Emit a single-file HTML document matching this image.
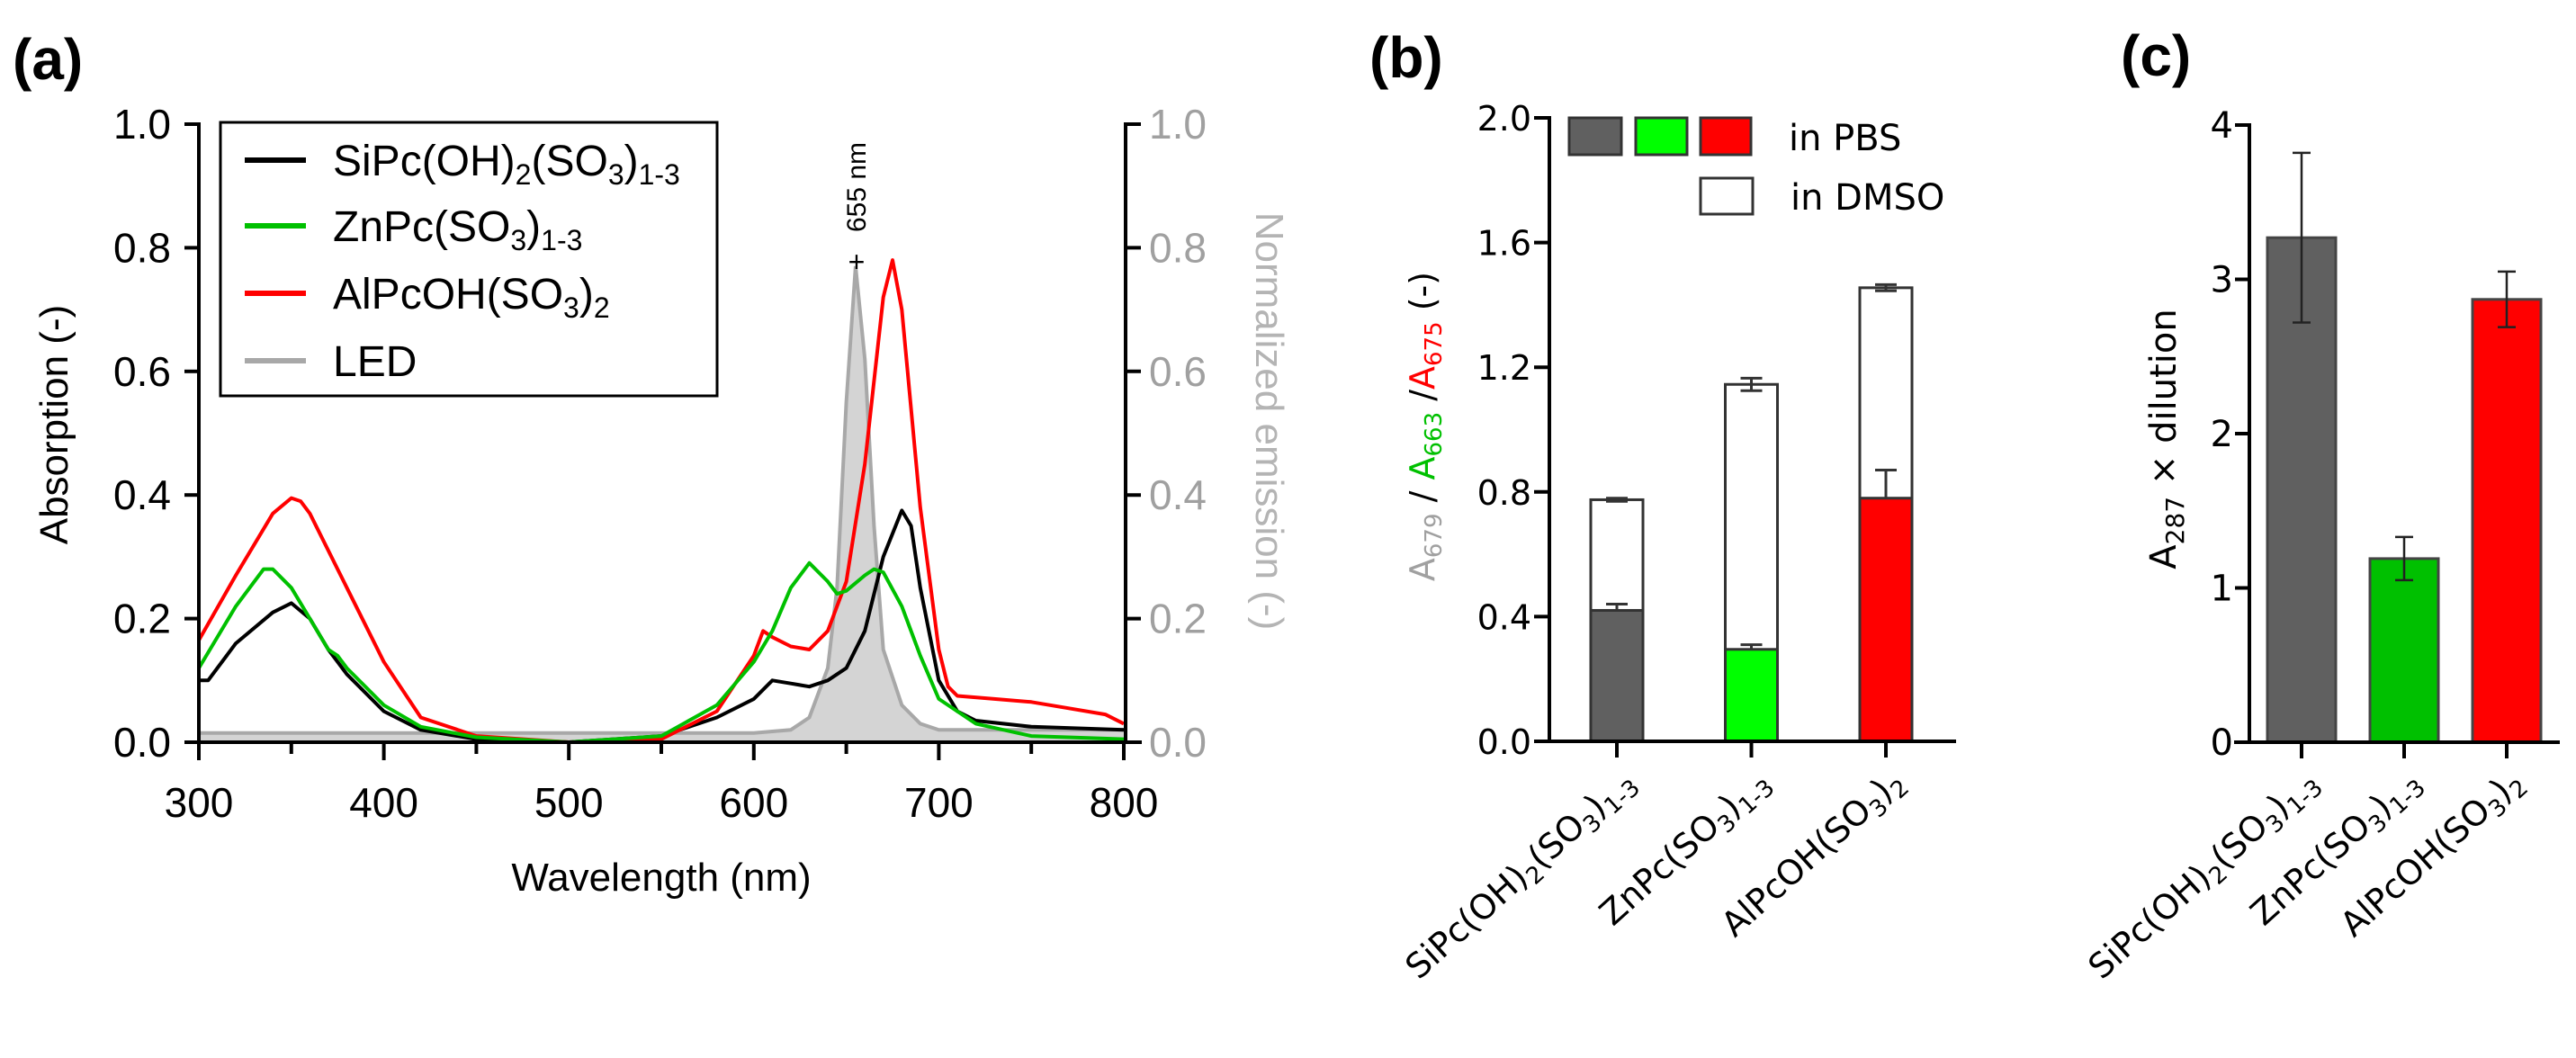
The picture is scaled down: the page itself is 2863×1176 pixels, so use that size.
<!DOCTYPE html>
<html><head><meta charset="utf-8"><style>
html,body{margin:0;padding:0;background:#fff;}
svg{display:block;}
text{font-family:"Liberation Sans",sans-serif;}
.n{font-family:"Liberation Sans Narrow","Liberation Sans",sans-serif;}
.v{font-family:"DejaVu Sans","Liberation Sans",sans-serif;}
</style></head><body>
<svg id="fig" width="2863" height="1176" viewBox="0 0 2863 1176" xmlns="http://www.w3.org/2000/svg">
<g id="pa"></g>
<g id="pb"></g>
<g id="pc"></g>
</svg>
<script>
// ---------- Panel (a) data ----------
const wlBlack = [300,305,320,340,350,360,370,375,380,400,420,450,500,550,580,600,610,620,630,640,650,660,670,680,685,690,700,710,720,750,800];
const absBlack = [0.10,0.10,0.16,0.21,0.225,0.20,0.15,0.13,0.11,0.05,0.02,0.005,0.0,0.01,0.04,0.07,0.10,0.095,0.09,0.10,0.12,0.18,0.30,0.375,0.35,0.25,0.10,0.05,0.035,0.025,0.02];
const wlGreen = [300,320,335,340,350,360,370,375,380,400,420,450,500,550,580,600,610,620,630,640,645,650,660,665,670,680,690,700,720,750,800];
const absGreen = [0.12,0.22,0.28,0.28,0.25,0.20,0.15,0.14,0.12,0.06,0.025,0.008,0.0,0.01,0.06,0.13,0.18,0.25,0.29,0.26,0.24,0.245,0.27,0.28,0.275,0.22,0.14,0.07,0.03,0.01,0.005];
const wlRed = [300,320,340,350,355,360,380,400,420,450,500,550,580,600,605,610,620,630,640,650,660,670,675,680,690,700,705,710,730,750,770,790,800];
const absRed = [0.165,0.27,0.37,0.395,0.39,0.37,0.25,0.13,0.04,0.01,0.0,0.005,0.05,0.14,0.18,0.17,0.155,0.15,0.18,0.26,0.45,0.72,0.78,0.70,0.38,0.15,0.09,0.075,0.07,0.065,0.055,0.045,0.03];
const wlLed = [300,350,400,450,500,550,600,620,630,640,645,650,655,660,665,670,680,690,700,750,800];
const emLed = [0.015,0.015,0.015,0.015,0.015,0.015,0.015,0.02,0.04,0.12,0.25,0.55,0.77,0.62,0.35,0.15,0.06,0.03,0.02,0.02,0.02];
const aXTicks = [300,400,500,600,700,800];
const aYTicks = [0,0.2,0.4,0.6,0.8,1.0];
const aYLabels = ["0.0","0.2","0.4","0.6","0.8","1.0"];

// ---------- Panel (b) data ----------
const bCats = ["SiPc(OH)2(SO3)1-3","ZnPc(SO3)1-3","AlPcOH(SO3)2"];
const bPbs = [0.42,0.295,0.78];
const bPbsErr = [0.02,0.015,0.09];
const bDmso = [0.775,1.145,1.455];
const bDmsoErr = [0.005,0.02,0.01];
const bYTicks = [0,0.4,0.8,1.2,1.6,2.0];
const bYLabels = ["0.0","0.4","0.8","1.2","1.6","2.0"];

// ---------- Panel (c) data ----------
const cVals = [3.27,1.19,2.87];
const cErr = [0.55,0.14,0.18];
const cYTicks = [0,1,2,3,4];

const NS="http://www.w3.org/2000/svg";
function mk(parent,tag,attrs){const e=document.createElementNS(NS,tag);for(const k in attrs)e.setAttribute(k,attrs[k]);parent.appendChild(e);return e;}

// axis functions
const ax = w => 221 + (w-300)*2.056;
const ay = v => 825 - v*687;
const by = v => 824 - v*346.5;
const bx = i => 1797 + i*149.5;
const cy = v => 825 - v*171.5;
const cx = i => 2558 + i*114;

// ===== Panel A =====
const pa=document.getElementById('pa');
let t=mk(pa,'text',{x:14,y:88,'font-size':64,'font-weight':'bold'});t.textContent='(a)';



// LED fill
function pathFor(xs,ys,fx,fy){return xs.map((x,i)=>(i?'L':'M')+fx(x).toFixed(1)+','+fy(ys[i]).toFixed(1)).join(' ');}
let ledFill=mk(pa,'path',{d:pathFor(wlLed,emLed,ax,ay)+` L${ax(800)},${ay(0)} L${ax(300)},${ay(0)} Z`,fill:'#d4d4d4',stroke:'none'});


let ledLine=mk(pa,'path',{d:pathFor(wlLed,emLed,ax,ay),fill:'none',stroke:'#a8a8a8','stroke-width':4});


let s1=mk(pa,'path',{d:pathFor(wlBlack,absBlack,ax,ay),fill:'none',stroke:'#000','stroke-width':4,'stroke-linejoin':'round'});


let s3=mk(pa,'path',{d:pathFor(wlRed,absRed,ax,ay),fill:'none',stroke:'#ff0000','stroke-width':4,'stroke-linejoin':'round'});


let s2=mk(pa,'path',{d:pathFor(wlGreen,absGreen,ax,ay),fill:'none',stroke:'#00c000','stroke-width':4,'stroke-linejoin':'round'});



// axes a
let la=mk(pa,'line',{x1:221,y1:ay(1)-2,x2:221,y2:ay(0),stroke:'#000','stroke-width':4});


let ra=mk(pa,'line',{x1:1251,y1:ay(1)-2,x2:1251,y2:ay(0),stroke:'#000','stroke-width':4});


let xa=mk(pa,'line',{x1:221,y1:825,x2:1269,y2:825,stroke:'#000','stroke-width':4});


aYTicks.forEach((v,i)=>{
  mk(pa,'line',{x1:205,y1:ay(v),x2:221,y2:ay(v),stroke:'#000','stroke-width':4});
  mk(pa,'line',{x1:1251,y1:ay(v),x2:1268,y2:ay(v),stroke:'#000','stroke-width':4});
  let l=mk(pa,'text',{x:190,y:ay(v)+16,'font-size':46,'text-anchor':'end',class:'n'});l.textContent=aYLabels[i];
  
  
  let r=mk(pa,'text',{x:1277,y:ay(v)+16,'font-size':46,fill:'#a0a0a0',class:'n'});r.textContent=aYLabels[i];
  
  
});
for(let w=300;w<=800;w+=50){
  mk(pa,'line',{x1:ax(w),y1:825,x2:ax(w),y2:w%100===0?845:838,stroke:'#000','stroke-width':4});
}
aXTicks.forEach(w=>{
  let l=mk(pa,'text',{x:ax(w),y:908,'font-size':46,'text-anchor':'middle',class:'n'});l.textContent=w;
  
  
});
t=mk(pa,'text',{x:735,y:990,'font-size':44,'text-anchor':'middle'});t.textContent='Wavelength (nm)';


t=mk(pa,'text',{x:0,y:0,'font-size':44,'text-anchor':'middle',transform:'translate(75,472) rotate(-90)'});t.textContent='Absorption (-)';


t=mk(pa,'text',{x:0,y:0,'font-size':44,'text-anchor':'middle',fill:'#b4b4b4',transform:'translate(1396,468) rotate(90)'});t.textContent='Normalized emission (-)';


t=mk(pa,'text',{x:0,y:0,'font-size':30,'text-anchor':'middle',transform:'translate(962,208) rotate(-90)'});t.textContent='655 nm';


t=mk(pa,'text',{x:952,y:302,'font-size':32,'text-anchor':'middle'});t.textContent='+';



// legend a
let lg=mk(pa,'g',{});


mk(lg,'rect',{x:245,y:136,width:552,height:304,fill:'#fff',stroke:'#000','stroke-width':3});
const legItems=[['#000','SiPc(OH)<tspan font-size="32" dy="10">2</tspan><tspan dy="-10">(SO</tspan><tspan font-size="32" dy="10">3</tspan><tspan dy="-10">)</tspan><tspan font-size="32" dy="10">1-3</tspan>',178,'legend-entry-sipc'],
['#00c000','ZnPc(SO<tspan font-size="32" dy="10">3</tspan><tspan dy="-10">)</tspan><tspan font-size="32" dy="10">1-3</tspan>',251,'legend-entry-znpc'],
['#ff0000','AlPcOH(SO<tspan font-size="32" dy="10">3</tspan><tspan dy="-10">)</tspan><tspan font-size="32" dy="10">2</tspan>',326,'legend-entry-alpc'],
['#a8a8a8','LED',401,'legend-entry-led']];
legItems.forEach(it=>{
  let g=mk(lg,'g',{});
  
  
  mk(g,'line',{x1:272,y1:it[2],x2:340,y2:it[2],stroke:it[0],'stroke-width':6});
  let tx=mk(g,'text',{x:370,y:it[2]+17,'font-size':48,class:'n'});tx.innerHTML=it[1];
});

// ===== Panel B =====
const pb=document.getElementById('pb');
t=mk(pb,'text',{x:1522,y:86,'font-size':64,'font-weight':'bold'});t.textContent='(b)';


const bColors=['#606060','#00ff00','#ff0000'];
const bw=58;
bCats.forEach((c,i)=>{
  let d=mk(pb,'rect',{x:bx(i)-bw/2,y:by(bDmso[i]),width:bw,height:by(0)-by(bDmso[i]),fill:'#fff',stroke:'#333','stroke-width':3});
  
  
  let p=mk(pb,'rect',{x:bx(i)-bw/2,y:by(bPbs[i]),width:bw,height:by(0)-by(bPbs[i]),fill:bColors[i],stroke:'#333','stroke-width':3});
  
  
  let e1=mk(pb,'path',{d:`M${bx(i)},${by(bPbs[i])} V${by(bPbs[i]+bPbsErr[i])} M${bx(i)-12},${by(bPbs[i]+bPbsErr[i])} H${bx(i)+12}`,stroke:'#333','stroke-width':3,fill:'none'});
  
  
  let e2=mk(pb,'path',{d:`M${bx(i)},${by(bDmso[i]-bDmsoErr[i])} V${by(bDmso[i]+bDmsoErr[i])} M${bx(i)-12},${by(bDmso[i]+bDmsoErr[i])} H${bx(i)+12} M${bx(i)-12},${by(bDmso[i]-bDmsoErr[i])} H${bx(i)+12}`,stroke:'#333','stroke-width':3,fill:'none'});
  
  
  mk(pb,'line',{x1:bx(i),y1:824,x2:bx(i),y2:842,stroke:'#000','stroke-width':4});
});
let bya=mk(pb,'line',{x1:1722,y1:by(2)-2,x2:1722,y2:826,stroke:'#000','stroke-width':4});


let bxa=mk(pb,'line',{x1:1705,y1:824,x2:2174,y2:824,stroke:'#000','stroke-width':4});


bYTicks.forEach((v,i)=>{
  mk(pb,'line',{x1:1705,y1:by(v),x2:1722,y2:by(v),stroke:'#000','stroke-width':4});
  let l=mk(pb,'text',{x:1702,y:by(v)+14,'font-size':38,'text-anchor':'end',class:'v'});l.textContent=bYLabels[i];
  
  
});
t=mk(pb,'text',{x:0,y:0,'font-size':38,'text-anchor':'middle',class:'v',transform:'translate(1594,474) rotate(-90)'});
t.innerHTML='<tspan fill="#a0a0a0">A</tspan><tspan fill="#a0a0a0" font-size="26" dy="8">679</tspan><tspan dy="-8"> / </tspan><tspan fill="#00c000">A</tspan><tspan fill="#00c000" font-size="26" dy="8">663</tspan><tspan dy="-8"> /</tspan><tspan fill="#ff0000">A</tspan><tspan fill="#ff0000" font-size="26" dy="8">675</tspan><tspan dy="-8"> (-)</tspan>';


let bl=mk(pb,'g',{});


mk(bl,'rect',{x:1744,y:131,width:58,height:41,fill:'#606060',stroke:'#333','stroke-width':3});
mk(bl,'rect',{x:1818,y:131,width:57,height:41,fill:'#00ff00',stroke:'#333','stroke-width':3});
mk(bl,'rect',{x:1890,y:131,width:56,height:41,fill:'#ff0000',stroke:'#333','stroke-width':3});
mk(bl,'rect',{x:1890,y:198,width:58,height:40,fill:'#fff',stroke:'#333','stroke-width':3});
t=mk(bl,'text',{x:1988,y:167,'font-size':40,class:'v'});t.textContent='in PBS';
t=mk(bl,'text',{x:1990,y:233,'font-size':40,class:'v'});t.textContent='in DMSO';
const catHtml=['SiPc(OH)<tspan font-size="26" dy="8">2</tspan><tspan dy="-8">(SO</tspan><tspan font-size="26" dy="8">3</tspan><tspan dy="-8">)</tspan><tspan font-size="26" dy="8">1-3</tspan>',
'ZnPc(SO<tspan font-size="26" dy="8">3</tspan><tspan dy="-8">)</tspan><tspan font-size="26" dy="8">1-3</tspan>',
'AlPcOH(SO<tspan font-size="26" dy="8">3</tspan><tspan dy="-8">)</tspan><tspan font-size="26" dy="8">2</tspan>'];
bCats.forEach((c,i)=>{
  let l=mk(pb,'text',{x:0,y:0,'font-size':38,'text-anchor':'end',class:'v',transform:`translate(${bx(i)+22},${872}) rotate(-42)`});l.innerHTML=catHtml[i];
  
  
});

// ===== Panel C =====
const pc=document.getElementById('pc');
t=mk(pc,'text',{x:2357,y:84,'font-size':64,'font-weight':'bold'});t.textContent='(c)';


const cColors=['#606060','#00c000','#ff0000'];
const cw=76;
cVals.forEach((v,i)=>{
  let r=mk(pc,'rect',{x:cx(i)-cw/2,y:cy(v),width:cw,height:cy(0)-cy(v),fill:cColors[i],stroke:'#444','stroke-width':3});
  
  
  let e=mk(pc,'path',{d:`M${cx(i)},${cy(v-cErr[i])} V${cy(v+cErr[i])} M${cx(i)-10},${cy(v+cErr[i])} H${cx(i)+10} M${cx(i)-10},${cy(v-cErr[i])} H${cx(i)+10}`,stroke:'#222','stroke-width':2.5,fill:'none'});
  
  
  mk(pc,'line',{x1:cx(i),y1:825,x2:cx(i),y2:843,stroke:'#000','stroke-width':4});
  let l=mk(pc,'text',{x:0,y:0,'font-size':38,'text-anchor':'end',class:'v',transform:`translate(${cx(i)+20},${872}) rotate(-42)`});l.innerHTML=catHtml[i];
  
  
});
let cya=mk(pc,'line',{x1:2500,y1:cy(4)-2,x2:2500,y2:827,stroke:'#000','stroke-width':4});


let cxa=mk(pc,'line',{x1:2483,y1:825,x2:2845,y2:825,stroke:'#000','stroke-width':4});


cYTicks.forEach(v=>{
  mk(pc,'line',{x1:2484,y1:cy(v),x2:2500,y2:cy(v),stroke:'#000','stroke-width':4});
  let l=mk(pc,'text',{x:2482,y:cy(v)+14,'font-size':40,'text-anchor':'end',class:'v'});l.textContent=v;
  
  
});
t=mk(pc,'text',{x:0,y:0,'font-size':40,'text-anchor':'middle',class:'v',transform:'translate(2418,488) rotate(-90)'});
t.innerHTML='A<tspan font-size="28" dy="9">287</tspan><tspan dy="-9"> × dilution</tspan>';


</script>
</body></html>
